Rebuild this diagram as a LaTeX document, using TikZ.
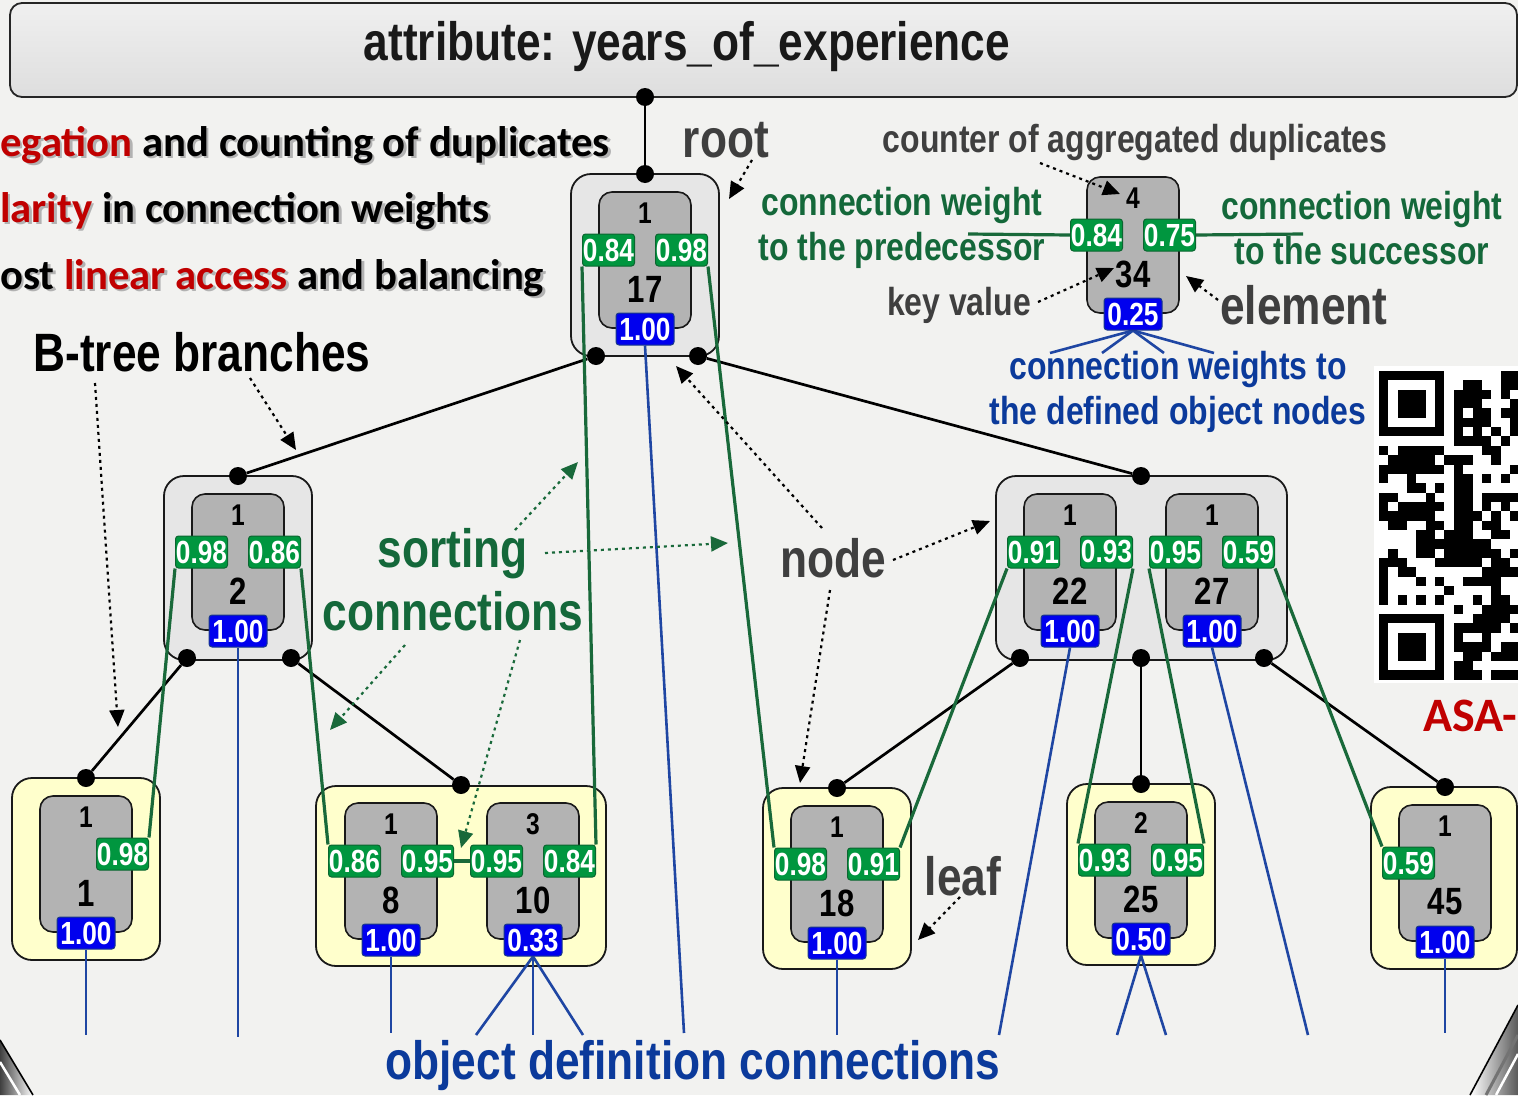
\documentclass[tikz,border=0pt]{standalone}
\usepackage{fontspec}
\setmainfont{Liberation Sans}
\newfontfamily\narrowsans{Liberation Sans}[FakeStretch=0.82]
\newfontfamily\slidesans{Carlito}
\usetikzlibrary{arrows.meta}

\pgfdeclarelayer{bg}
\pgfdeclarelayer{boxes}
\pgfdeclarelayer{links}
\pgfsetlayers{bg,boxes,links,main}

\definecolor{bgc}{HTML}{F2F2F0}
\definecolor{nodefill}{HTML}{E6E6E6}
\definecolor{leaffill}{HTML}{FFFFCC}
\definecolor{elemfill}{HTML}{B3B3B3}
\definecolor{seqfill}{HTML}{00963F}
\definecolor{seqedge}{HTML}{0B6630}
\definecolor{objfill}{HTML}{0000EE}
\definecolor{objedge}{HTML}{1A3A8A}
\definecolor{seqline}{HTML}{19693A}
\definecolor{objline}{HTML}{1F46A3}
\definecolor{greentext}{HTML}{14683A}
\definecolor{bluetext}{HTML}{0B3A9B}
\definecolor{greytext}{HTML}{3F3F3F}
\definecolor{redtext}{HTML}{C00000}

\newcommand\fontbig{\narrowsans\bfseries\fontsize{54}{63}\selectfont}
\newcommand\fontmid{\narrowsans\bfseries\fontsize{39}{45}\selectfont}
\newcommand\fontslide{\slidesans\bfseries\fontsize{42.7}{42.7}\selectfont}

% one element of a node: counter on top, key below, weight to objects at the bottom
\newcommand\drawelement[6]{%
  \begin{pgfonlayer}{boxes}
    \node[elembox] (#1) at (#2,#3+68) {};
    \node[countfont] (#1-c) at (#2,#3+21) {#4};
    \node[keyfont] (#1-k) at (#2,#3+97) {#5};
  \end{pgfonlayer}
  \node[objw] (#1-b) at (#2,#3+137) {#6};
}
\newcommand\predweight[4]{\node[seqw] (#1-l) at (#2-36.5,#3+58) {#4};}
\newcommand\succweight[4]{\node[seqw] (#1-r) at (#2+36.5,#3+58) {#4};}

% QR code modules, one row of bits at a time
\newcount\qrcol
\def\qrscan#1{\ifx#1\relax\else\if#11\fill (1379+\the\qrcol*9.35,371+\qrrowidx*9.35) rectangle ++(9.35,9.35);\fi\global\advance\qrcol by 1 \expandafter\qrscan\fi}

\begin{document}
\begin{tikzpicture}[x=1pt,y=-1pt,
  nodebox/.style={draw=black!90,line width=1.8pt,fill=nodefill,rounded corners=20pt,inner sep=0pt},
  leafbox/.style={nodebox,fill=leaffill},
  elembox/.style={draw=black!90,line width=1.6pt,fill=elemfill,rounded corners=13pt,minimum width=92pt,minimum height=136pt,inner sep=0pt},
  countfont/.style={inner sep=0pt,font=\narrowsans\bfseries\fontsize{30}{30}\selectfont},
  keyfont/.style={inner sep=0pt,font=\narrowsans\bfseries\fontsize{38}{38}\selectfont},
  seqw/.style={draw=seqedge,fill=seqfill,line width=1pt,rounded corners=3pt,text=white,minimum width=52pt,minimum height=32pt,inner sep=0pt,font=\narrowsans\bfseries\fontsize{32}{32}\selectfont},
  objw/.style={seqw,draw=objedge,fill=objfill,minimum width=58pt},
  joint/.style={circle,fill=black,inner sep=0pt,minimum size=18pt},
  treeedge/.style={draw=black,line width=2.7pt},
  seqlink/.style={draw=seqline,line width=3.2pt},
  objlink/.style={draw=objline,line width=2.6pt},
  hintarrow/.style={draw=black,line width=2.2pt,dash pattern=on 3pt off 4pt,-{Triangle[length=17pt,width=15pt]}},
  sorthint/.style={hintarrow,draw=seqline,-{Triangle[length=17pt,width=15pt,fill=seqline]}},
  bannerbox/.style={draw=black!85,line width=1.8pt,rounded corners=12pt,top color=black!6,bottom color=black!13,minimum width=1507pt,minimum height=94pt,inner sep=0pt}
]
\useasboundingbox (0,0) rectangle (1518,1095);

\begin{pgfonlayer}{bg}
  \fill[bgc] (0,0) rectangle (1518,1095);
  % metal frame pieces in the lower corners
  \shade[left color=black!75,right color=white] (0,1040) -- (33,1095) -- (0,1095) -- cycle;
  \draw[white,line width=2.5pt] (0,1062) -- (20,1095);
  \draw[black,line width=1.6pt] (0,1040) -- (33,1095);
  \shade[left color=white,right color=black!65] (1470,1095) -- (1518,1005) -- (1518,1095) -- cycle;
  \draw[black!55,line width=3pt] (1486,1095) -- (1518,1035);
  \draw[white,line width=2.5pt] (1496,1095) -- (1518,1054);
  \draw[black,line width=1.6pt] (1470,1095) -- (1518,1005);
\end{pgfonlayer}

% attribute banner
\node[bannerbox] (banner) at (763.5,50) {};
\node[font=\fontbig,text=black!90] (title) at (687,47) {attribute: years\_of\_experience};

% slide bullet lines
\begin{scope}[every node/.style={anchor=base west,inner sep=0pt,font=\fontslide}]
  \node[text=black!30] at (2.5,158.5) {egation and counting of duplicates};
  \node[text=black!30] at (2.5,224.5) {larity in connection weights};
  \node[text=black!30] at (2.5,291.5) {ost linear access and balancing};
  \node (b1) at (0,156) {\textcolor{redtext}{egation} and counting of duplicates};
  \node (b2) at (0,222) {\textcolor{redtext}{larity} in connection weights};
  \node (b3) at (0,289) {ost \textcolor{redtext}{linear access} and balancing};
\end{scope}

% outer node and leaf boxes
\begin{pgfonlayer}{boxes}
  \node[nodebox,minimum width=148pt,minimum height=182pt] (root) at (645,265) {};
  \node[nodebox,minimum width=148pt,minimum height=184pt] (inner2) at (238,568) {};
  \node[nodebox,minimum width=291pt,minimum height=184pt] (innerR) at (1141.5,568) {};
  \node[leafbox,minimum width=148pt,minimum height=182pt] (leafA) at (86,869) {};
  \node[leafbox,minimum width=290pt,minimum height=180pt] (leafB) at (461,876) {};
  \node[leafbox,minimum width=148pt,minimum height=181pt] (leafC) at (837,878.5) {};
  \node[leafbox,minimum width=148pt,minimum height=181pt] (leafD) at (1141,874.5) {};
  \node[leafbox,minimum width=146pt,minimum height=182pt] (leafE) at (1444,878) {};
\end{pgfonlayer}

% elements
\drawelement{e17}{645}{192}{1}{17}{1.00}
\predweight{e17}{645}{192}{0.84}\succweight{e17}{645}{192}{0.98}
\drawelement{e2}{238}{494}{1}{2}{1.00}
\predweight{e2}{238}{494}{0.98}\succweight{e2}{238}{494}{0.86}
\drawelement{e22}{1070}{494}{1}{22}{1.00}
\predweight{e22}{1070}{494}{0.91}\succweight{e22}{1070}{494}{0.93}
\drawelement{e27}{1212}{494}{1}{27}{1.00}
\predweight{e27}{1212}{494}{0.95}\succweight{e27}{1212}{494}{0.59}
\drawelement{e1}{86}{796}{1}{1}{1.00}
\succweight{e1}{86}{796}{0.98}
\drawelement{e8}{391}{803}{1}{8}{1.00}
\predweight{e8}{391}{803}{0.86}\succweight{e8}{391}{803}{0.95}
\drawelement{e10}{533}{803}{3}{10}{0.33}
\predweight{e10}{533}{803}{0.95}\succweight{e10}{533}{803}{0.84}
\drawelement{e18}{837}{806}{1}{18}{1.00}
\predweight{e18}{837}{806}{0.98}\succweight{e18}{837}{806}{0.91}
\drawelement{e25}{1141}{802}{2}{25}{0.50}
\predweight{e25}{1141}{802}{0.93}\succweight{e25}{1141}{802}{0.95}
\drawelement{e45}{1445}{805}{1}{45}{1.00}
\predweight{e45}{1445}{805}{0.59}
% legend element
\drawelement{e34}{1133}{177}{4}{34}{0.25}
\predweight{e34}{1133}{177}{0.84}\succweight{e34}{1133}{177}{0.75}

% joints of the B-tree
\node[joint] (jb) at (645,97) {};
\node[joint] (jr-t) at (645,174) {};
\node[joint] (jr-l) at (596,356) {};
\node[joint] (jr-r) at (698,356) {};
\node[joint] (j2-t) at (238,476) {};
\node[joint] (j2-l) at (187,658) {};
\node[joint] (j2-r) at (291,658) {};
\node[joint] (jR-t) at (1141,476) {};
\node[joint] (jR-l) at (1020,658) {};
\node[joint] (jR-m) at (1141,658) {};
\node[joint] (jR-r) at (1264,658) {};
\node[joint] (jA) at (86,778) {};
\node[joint] (jB) at (461,785) {};
\node[joint] (jC) at (837,788) {};
\node[joint] (jD) at (1141,784) {};
\node[joint] (jE) at (1445,787) {};

% free ends of the object definition connections
\coordinate (o1) at (86,1035);
\coordinate (o2) at (238,1037);
\coordinate (o8) at (391,1033);
\coordinate (o10a) at (476,1035);
\coordinate (o10b) at (533,1035);
\coordinate (o10c) at (583,1035);
\coordinate (o17) at (684,1033);
\coordinate (o18) at (837,1035);
\coordinate (o22) at (999,1035);
\coordinate (o25a) at (1117,1035);
\coordinate (o25b) at (1166,1035);
\coordinate (o27) at (1308,1035);
\coordinate (o45) at (1445,1033);
\coordinate (lg1) at (1050,353);
\coordinate (lg2) at (1102,353);
\coordinate (lg3) at (1164,353);
\coordinate (lg4) at (1214,353);
\coordinate (lpred) at (968,234);
\coordinate (lsucc) at (1303,234);

\begin{pgfonlayer}{links}
  % B-tree branches
  \draw[treeedge] (jb) -- (jr-t);
  \draw[treeedge] (jr-l) -- (j2-t);
  \draw[treeedge] (jr-r) -- (jR-t);
  \draw[treeedge] (j2-l) -- (jA);
  \draw[treeedge] (j2-r) -- (jB);
  \draw[treeedge] (jR-l) -- (jC);
  \draw[treeedge] (jR-m) -- (jD);
  \draw[treeedge] (jR-r) -- (jE);
  % sorting connections
  \draw[seqlink] (e1-r.north east) -- (e2-l.south west);
  \draw[seqlink] (e2-r.south east) -- (e8-l.north west);
  \draw[seqlink] (e8-r.east) -- (e10-l.west);
  \draw[seqlink] (e10-r.north east) -- (e17-l.south west);
  \draw[seqlink] (e17-r.south east) -- (e18-l.north west);
  \draw[seqlink] (e18-r.north east) -- (e22-l.south west);
  \draw[seqlink] (e22-r.south east) -- (e25-l.north west);
  \draw[seqlink] (e25-r.north east) -- (e27-l.south west);
  \draw[seqlink] (e27-r.south east) -- (e45-l.north west);
  \draw[seqlink] (e34-l.west) -- (lpred);
  \draw[seqlink] (e34-r.east) -- (lsucc);
  % object definition connections
  \draw[objlink] (e1-b.south) -- (o1);
  \draw[objlink] (e2-b.south) -- (o2);
  \draw[objlink] (e8-b.south) -- (o8);
  \draw[objlink] (e10-b.south) -- (o10a);
  \draw[objlink] (e10-b.south) -- (o10b);
  \draw[objlink] (e10-b.south) -- (o10c);
  \draw[objlink] (e17-b.south) -- (o17);
  \draw[objlink] (e18-b.south) -- (o18);
  \draw[objlink] (e22-b.south) -- (o22);
  \draw[objlink] (e25-b.south) -- (o25a);
  \draw[objlink] (e25-b.south) -- (o25b);
  \draw[objlink] (e27-b.south) -- (o27);
  \draw[objlink] (e45-b.south) -- (o45);
  \draw[objlink] (e34-b.south) -- (lg1);
  \draw[objlink] (e34-b.south) -- (lg2);
  \draw[objlink] (e34-b.south) -- (lg3);
  \draw[objlink] (e34-b.south) -- (lg4);
\end{pgfonlayer}

% annotations
\node[font=\fontbig,text=black] (branches) at (202,352) {B-tree branches};
\node[font=\fontbig,text=greytext] (rootlbl) at (726,140) {root};
\node[font=\fontbig,text=greytext] (nodelbl) at (833,558) {node};
\node[font=\fontbig,text=greytext] (leaflbl) at (963,876) {leaf};
\node[font=\fontbig,text=greytext] (elemlbl) at (1304,305) {element};
\node[font=\fontbig,text=greentext,align=center] (sortlbl) at (453,580) {sorting\\connections};
\node[font=\fontbig,text=bluetext] (objlbl) at (693,1066) {object definition connections};
\node[font=\fontmid,text=greytext] (cntlbl) at (1135,142) {counter of aggregated duplicates};
\node[font=\fontmid,text=greytext] (keylbl) at (959,305) {key value};
\node[font=\fontmid,text=greentext,align=center] (predlbl) at (902,228) {connection weight\\to the predecessor};
\node[font=\fontmid,text=greentext,align=center] (succlbl) at (1362,228) {connection weight\\to the successor};
\node[font=\fontmid,text=bluetext,align=center] (objwlbl) at (1178,392) {connection weights to\\the defined object nodes};

% pointers from the annotations
\draw[hintarrow] (95,383) -- (118,727);
\draw[hintarrow] (250,378) -- (296,450);
\draw[hintarrow] (752,160) -- (729,199);
\draw[hintarrow] (822,528) -- (676,366);
\draw[hintarrow] (893,560) -- (990,521);
\draw[hintarrow] (830,590) -- (800,783);
\draw[hintarrow] (960,897) -- (918,940);
\draw[hintarrow] (1040,163) -- (1120,194);
\draw[hintarrow] (1038,302) -- (1114,268);
\draw[hintarrow] (1218,300) -- (1186,276);
\draw[sorthint] (515,530) -- (578,462);
\draw[sorthint] (545,553) -- (728,543);
\draw[sorthint] (405,645) -- (330,730);
\draw[sorthint] (520,640) -- (461,848);

% QR code
\fill[white] (1374,366) rectangle (1518,683);
\begin{scope}[black]
\foreach \qrrowidx/\qrbits in {
 0/111111100000011, 1/100000100110011, 2/101110101111010, 3/101110101110001,
 4/101110101011011, 5/100000101111001, 6/111111101010101, 7/000000001111010,
 8/101111100001100, 9/011111011100100, 10/111111101000001, 11/100100001101010,
 12/000110101100000, 13/110001001101111, 14/101111101101010, 15/111111001110101,
 16/011001101101100, 17/000011011100110, 18/000011111111000, 19/010011011111101,
 20/111000111110110, 21/101100000001111, 22/100010100111100, 23/100000010000100,
 24/101010100010110, 25/000000001001111, 26/111111100011110, 27/100000101111101,
 28/101110101001000, 29/101110101111011, 30/101110100110111, 31/100000101100000,
 32/111111101110111}
 {\global\qrcol=0 \expandafter\qrscan\qrbits\relax}
\end{scope}
\node[anchor=base west,inner sep=0pt,font=\slidesans\bfseries\fontsize{48}{48}\selectfont,text=redtext] (asa) at (1423,731) {ASA-};

\end{tikzpicture}
\end{document}
